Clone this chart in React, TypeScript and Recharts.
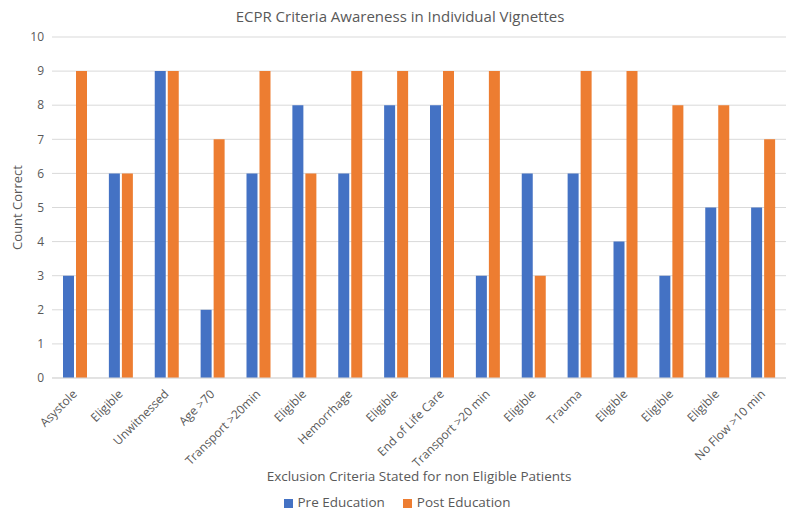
import React from 'react';
import { BarChart, Bar, XAxis, YAxis, CartesianGrid, Legend } from 'recharts';

const categories = [
  'Asystole', 'Eligible', 'Unwitnessed', 'Age >70', 'Transport >20min', 'Eligible',
  'Hemorrhage', 'Eligible', 'End of Life Care', 'Transport >20 min', 'Eligible',
  'Trauma', 'Eligible', 'Eligible', 'Eligible', 'No Flow >10 min',
];
const preEducation = [3, 6, 9, 2, 6, 8, 6, 8, 8, 3, 6, 6, 4, 3, 5, 5];
const postEducation = [9, 6, 9, 7, 9, 6, 9, 9, 9, 9, 3, 9, 9, 8, 8, 7];
const yTicks = [0, 1, 2, 3, 4, 5, 6, 7, 8, 9, 10];

const data = categories.map((c, i) => ({
  idx: i,
  name: c,
  pre: preEducation[i],
  post: postEducation[i],
}));

const FONT = '"Open Sans", "Noto Sans", sans-serif';
const GRAY = '#595959';

const CatTick = (props: any) => {
  const { x, y, payload } = props;
  return (
    <g transform={`translate(${x},${y + 6})`}>
      <text
        x={0}
        y={0}
        dy={4}
        textAnchor="end"
        transform="rotate(-45)"
        fill={GRAY}
        fontSize={12}
        fontFamily={FONT}
      >
        {categories[payload.value]}
      </text>
    </g>
  );
};

const order: Record<string, number> = { 'Pre Education': 0, 'Post Education': 1 };

export default function App() {
  return (
    <div style={{ position: 'absolute', left: 0, top: 0, width: 800, height: 518, background: '#fff', fontFamily: FONT }}>
      <div
        style={{
          position: 'absolute',
          top: 6,
          left: 0,
          width: 800,
          textAlign: 'center',
          fontSize: 15,
          color: GRAY,
          fontFamily: FONT,
        }}
      >
        ECPR Criteria Awareness in Individual Vignettes
      </div>
      <BarChart
        width={800}
        height={518}
        data={data}
        margin={{ top: 37, right: 14, left: 0, bottom: 0 }}
        barSize={11}
        barGap={2}
      >
        <CartesianGrid vertical={false} stroke="#d9d9d9" />
        <XAxis
          dataKey="idx"
          type="category"
          tickLine={false}
          axisLine={{ stroke: '#d9d9d9' }}
          interval={0}
          height={115}
          tick={<CatTick />}
          label={{
            value: 'Exclusion Criteria Stated for non Eligible Patients',
            position: 'insideBottom',
            offset: 12,
            fill: GRAY,
            fontSize: 13.5,
            fontFamily: FONT,
          }}
        />
        <YAxis
          domain={[0, 10]}
          ticks={yTicks}
          width={52}
          tickLine={false}
          axisLine={false}
          tick={{ fill: GRAY, fontSize: 12, fontFamily: FONT }}
          label={{
            value: 'Count Correct',
            angle: -90,
            position: 'insideLeft',
            offset: 17,
            fill: GRAY,
            fontSize: 13,
            fontFamily: FONT,
            style: { textAnchor: 'middle' },
          }}
        />
        <Legend
          verticalAlign="bottom"
          height={25}
          iconType="square"
          iconSize={9}
          itemSorter={(item: any) => order[item.value] ?? 0}
          wrapperStyle={{ fontSize: 13.5, fontFamily: FONT, color: GRAY, left: 9 }}
          formatter={(v: string) => (
            <span style={{ color: GRAY, marginLeft: 1, marginRight: v === 'Pre Education' ? 8 : 0 }}>{v}</span>
          )}
        />
        <Bar dataKey="pre" name="Pre Education" fill="#4472C4" isAnimationActive={false} />
        <Bar dataKey="post" name="Post Education" fill="#ED7D31" isAnimationActive={false} />
      </BarChart>
    </div>
  );
}
